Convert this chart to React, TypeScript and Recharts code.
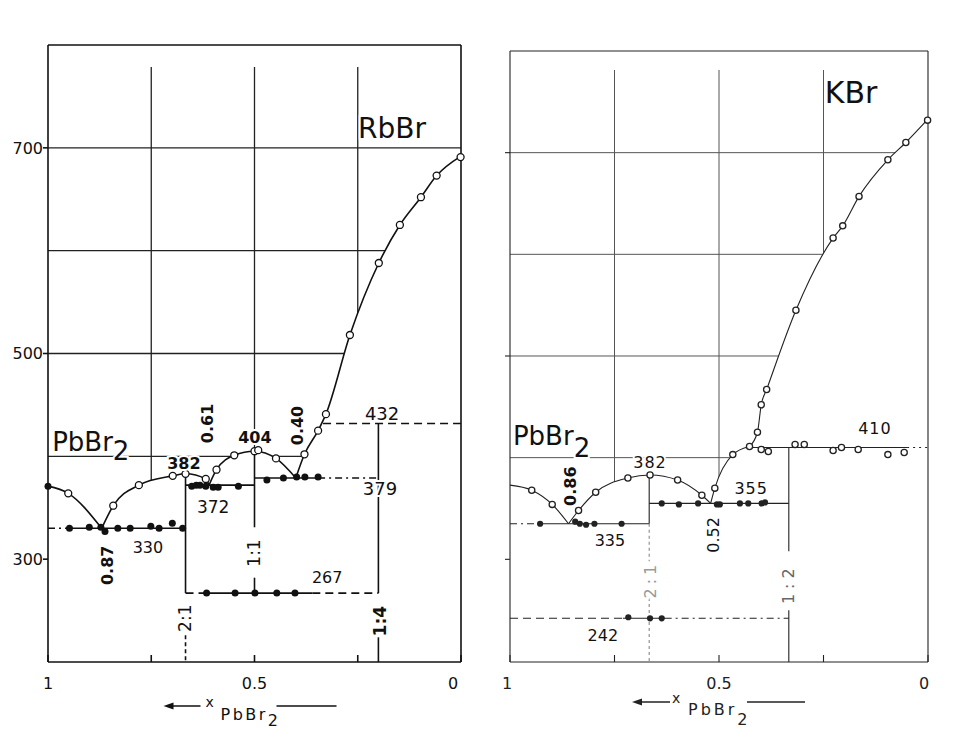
import React from 'react';
import { ComposedChart, Line, Area, Scatter, XAxis, YAxis, CartesianGrid } from 'recharts';

type P = { x: number; t: number };
type Note = P & { text: string; sub?: string; subDy?: number; size?: number; w?: number; rot?: boolean; anchor?: 'start' | 'middle'; fill?: string; ls?: number };

const pts = (...a: [number, number][]): P[] => a.map(([x, t]) => ({ x, t }));

const FONT = '"DejaVu Sans", "Liberation Sans", sans-serif';

// x = mole fraction of PbBr2, drawn from 1 (left) to 0 (right)
const xTicks = [1, 0.75, 0.5, 0.25, 0];
const xTickText: Record<string, string> = { '1': '1', '0.5': '0.5', '0': '0' };
const gridTemps = [400, 500, 600, 700];
const gridX = [0.75, 0.5, 0.25];

// ---------- RbBr - PbBr2 ----------
const rbLiq1 = pts([1, 371], [0.951, 364], [0.87, 330]);
const rbLiq2 = pts([0.87, 330], [0.842, 352], [0.78, 372], [0.698, 381], [0.667, 383], [0.618, 378], [0.61, 372]);
const rbLiq3 = pts([0.61, 372], [0.592, 387], [0.549, 401], [0.5, 405], [0.448, 398], [0.4, 379]);
const rbLiq4 = pts([0.4, 379], [0.379, 402], [0.346, 425], [0.327, 441], [0.269, 518], [0.199, 588], [0.148, 625], [0.097, 652], [0.059, 673], [0, 692]);

const rbOpen = pts(
  [0.951, 364], [0.842, 352], [0.78, 372], [0.698, 381], [0.667, 383], [0.618, 378], [0.592, 387], [0.549, 401],
  [0.5, 405], [0.491, 406], [0.448, 398], [0.379, 402], [0.346, 425], [0.327, 441], [0.269, 518], [0.199, 588],
  [0.148, 625], [0.097, 652], [0.059, 673], [0.001, 691],
);
const rbDots330 = pts([1, 371], [0.948, 330], [0.9, 331], [0.872, 331], [0.862, 327], [0.831, 330], [0.801, 330], [0.751, 332], [0.731, 330], [0.699, 335], [0.674, 330]);
const rbDots372 = pts([0.652, 371], [0.641, 372], [0.632, 372], [0.618, 371], [0.6, 370], [0.588, 370], [0.539, 371]);
const rbDots379 = pts([0.47, 377], [0.43, 379], [0.398, 380], [0.378, 380], [0.346, 380]);
const rbDots267 = pts([0.616, 267], [0.547, 267], [0.499, 267], [0.446, 267], [0.402, 267]);

const rbIso330 = pts([0.95, 330], [0.667, 330]);
const rbIso330Lead = pts([1, 330], [0.95, 330]);
const rbIso372 = pts([0.667, 372], [0.5, 372]);
const rbIso379 = pts([0.5, 379], [0.346, 379]);
const rbIso379Tail = pts([0.346, 379], [0.2, 379]);
const rbIso432 = pts([0.334, 432], [0, 432]);
const rbIso267 = pts([0.616, 267], [0.36, 267]);
const rbIso267Lead = pts([0.667, 267], [0.616, 267]);
const rbIso267Tail = pts([0.36, 267], [0.2, 267]);
const rbComp21 = pts([0.667, 383], [0.667, 267]);
const rbComp21Foot = pts([0.667, 226], [0.667, 200]);
const rbComp11 = pts([0.5, 405], [0.5, 331]);
const rbComp11Foot = pts([0.5, 282], [0.5, 267]);
const rbComp14 = pts([0.2, 432], [0.2, 267]);
const rbComp14Foot = pts([0.2, 224], [0.2, 200]);

const rbNotes: Note[] = [
  { x: 0.167, t: 719, text: 'RbBr', size: 28 },
  { x: 0.99, t: 414, text: 'PbBr', sub: '2', subDy: 9, size: 26, anchor: 'start' },
  { x: 0.671, t: 393, text: '382', w: 700, size: 16 },
  { x: 0.615, t: 432, text: '0.61', w: 700, size: 16, rot: true },
  { x: 0.499, t: 418, text: '404', w: 700, size: 16 },
  { x: 0.397, t: 430, text: '0.40', w: 700, size: 16, rot: true },
  { x: 0.191, t: 442, text: '432', size: 18 },
  { x: 0.196, t: 369, text: '379', size: 18 },
  { x: 0.6, t: 351, text: '372' },
  { x: 0.758, t: 311, text: '330', size: 16 },
  { x: 0.857, t: 294, text: '0.87', w: 700, size: 16, rot: true },
  { x: 0.5, t: 306, text: '1:1', rot: true },
  { x: 0.324, t: 282.5, text: '267', size: 16 },
  { x: 0.668, t: 242.6, text: '2:1', rot: true },
  { x: 0.196, t: 239.7, text: '1:4', w: 700, rot: true },
];

// ---------- KBr - PbBr2 ----------
const kLiq1 = pts([1, 373], [0.948, 368], [0.899, 354], [0.86, 335]);
const kLiq2 = pts([0.86, 335], [0.836, 348], [0.795, 366], [0.718, 380], [0.665, 383], [0.599, 378], [0.541, 363], [0.52, 355]);
const kLiq3 = pts([0.52, 355], [0.51, 370], [0.467, 403], [0.427, 411]);
const kLiq4 = pts([0.427, 411], [0.408, 425], [0.399, 452], [0.386, 467], [0.316, 545], [0.227, 616], [0.204, 628], [0.165, 657], [0.096, 693], [0.053, 710], [0, 733]);

const kOpen = pts(
  [0.948, 368], [0.899, 354], [0.836, 348], [0.795, 366], [0.718, 380], [0.665, 383], [0.599, 378], [0.541, 363],
  [0.51, 370], [0.467, 403], [0.427, 411], [0.408, 425], [0.399, 452], [0.386, 467], [0.316, 545], [0.227, 616],
  [0.204, 628], [0.165, 657], [0.096, 693], [0.053, 710], [0.001, 732],
  [0.399, 408], [0.382, 406], [0.318, 413], [0.296, 413], [0.227, 407], [0.207, 410], [0.167, 408], [0.096, 403], [0.057, 405],
);
const kDots335 = pts([0.928, 335], [0.844, 337], [0.833, 335], [0.818, 334], [0.798, 335], [0.733, 335]);
const kDots355 = pts([0.637, 355], [0.596, 354], [0.55, 355], [0.505, 354], [0.498, 354], [0.45, 355], [0.43, 355], [0.398, 355], [0.39, 356]);
const kDots242 = pts([0.717, 243], [0.665, 242], [0.637, 242]);

const kIso335 = pts([0.93, 335], [0.667, 335]);
const kIso335Lead = pts([1, 335], [0.93, 335]);
const kIso355 = pts([0.667, 355], [0.333, 355]);
const kIso410 = pts([0.427, 410], [0.05, 410]);
const kIso410Tail = pts([0.05, 410], [0, 410]);
const kIso242 = pts([0.73, 242], [0.63, 242]);
const kIso242Lead = pts([1, 242], [0.73, 242]);
const kIso242Tail = pts([0.63, 242], [0.333, 242]);
const kComp21 = pts([0.667, 383], [0.667, 335]);
const kComp21Low = pts([0.667, 335], [0.667, 298]);
const kComp21Foot = pts([0.667, 262], [0.667, 199]);
const kComp12 = pts([0.333, 410], [0.333, 308]);
const kComp12Foot = pts([0.333, 250], [0.333, 199]);

const kNotes: Note[] = [
  { x: 0.184, t: 759, text: 'KBr', size: 30 },
  { x: 0.993, t: 421, text: 'PbBr', sub: '2', subDy: 12, size: 26, anchor: 'start' },
  { x: 0.665, t: 395, text: '382', size: 16, ls: 1 },
  { x: 0.856, t: 372, text: '0.86', w: 700, size: 16, rot: true },
  { x: 0.423, t: 370, text: '355', size: 16, ls: 1 },
  { x: 0.761, t: 319, text: '335', size: 16 },
  { x: 0.127, t: 429, text: '410', size: 16, ls: 1 },
  { x: 0.514, t: 324, text: '0.52', size: 16, rot: true },
  { x: 0.665, t: 280, text: '2:1', size: 16, rot: true, fill: '#999', ls: 4 },
  { x: 0.333, t: 276, text: '1:2', size: 16, rot: true, fill: '#666', ls: 5 },
  { x: 0.778, t: 225.5, text: '242', size: 16 },
];

type Seg = { d: P[]; dash?: string; ink?: string };

type TitleCfg = { ay: number; a0: number; a1: number; xx: number; xy: number; pb: number; py: number; sd: number; l0: number; l1: number; ls: number };

type PanelCfg = {
  left: number;
  width: number;
  margin: { top: number; right: number; bottom: number; left: number };
  yDomain: [number, number];
  yLeftW: number;
  yRightW: number;
  yLeftTicks: number[];
  yLeftLabels: boolean;
  yRightTicks: number[];
  yRightLabels: boolean;
  gridY: number;
  gridH: number;
  liquidus: P[][];
  segs: Seg[];
  open: P[];
  filled: P[];
  notes: Note[];
  ink: string;
  lw: number;
  gridInk: string;
  gridW: number;
  r: number;
  zeroShift: number;
  oneShift: number;
  title: TitleCfg;
};

const DASH = '8 5';
const DASHDOT = '7 4 2 4';

const rbPanel: PanelCfg = {
  left: 0,
  width: 480,
  margin: { top: 44, right: 9, bottom: 29, left: 0 },
  yDomain: [200, 800],
  yLeftW: 48,
  yRightW: 10,
  yLeftTicks: [300, 500, 700],
  yLeftLabels: true,
  yRightTicks: [400, 600],
  yRightLabels: false,
  gridY: 67,
  gridH: 595,
  liquidus: [rbLiq1, rbLiq2, rbLiq3, rbLiq4],
  segs: [
    { d: rbIso330 }, { d: rbIso330Lead, dash: DASHDOT }, { d: rbIso372 }, { d: rbIso379 },
    { d: rbIso379Tail, dash: DASHDOT }, { d: rbIso432, dash: DASH }, { d: rbIso267 },
    { d: rbIso267Lead, dash: DASH }, { d: rbIso267Tail, dash: DASH }, { d: rbComp21 },
    { d: rbComp21Foot, dash: '4 3' }, { d: rbComp11 }, { d: rbComp11Foot }, { d: rbComp14 }, { d: rbComp14Foot },
  ],
  open: rbOpen,
  filled: [...rbDots330, ...rbDots372, ...rbDots379, ...rbDots267],
  notes: rbNotes,
  ink: '#111',
  lw: 1.6,
  gridInk: '#222',
  gridW: 1.3,
  r: 3.5,
  zeroShift: -8,
  oneShift: 0,
  title: { ay: 44, a0: -91, a1: -54, xx: -49, xy: 45, pb: -34, py: 58, sd: 6, l0: 22, l1: 82, ls: 2.5 },
};

const kPanel: PanelCfg = {
  left: 480,
  width: 487,
  margin: { top: 50, right: 0, bottom: 29, left: 0 },
  yDomain: [199, 800],
  yLeftW: 30,
  yRightW: 39,
  yLeftTicks: [300, 500, 700],
  yLeftLabels: false,
  yRightTicks: [400, 600],
  yRightLabels: true,
  gridY: 70,
  gridH: 592,
  liquidus: [kLiq1, kLiq2, kLiq3, kLiq4],
  segs: [
    { d: kIso335 }, { d: kIso335Lead, dash: DASHDOT }, { d: kIso355 }, { d: kIso410 },
    { d: kIso410Tail, dash: '2 4' }, { d: kIso242 }, { d: kIso242Lead, dash: DASH },
    { d: kIso242Tail, dash: DASHDOT }, { d: kComp21 }, { d: kComp21Low, dash: '3 3', ink: '#888' },
    { d: kComp21Foot, dash: '3 3', ink: '#888' }, { d: kComp12 }, { d: kComp12Foot },
  ],
  open: kOpen,
  filled: [...kDots335, ...kDots355, ...kDots242],
  notes: kNotes,
  ink: '#222',
  lw: 1.1,
  gridInk: '#555',
  gridW: 1,
  r: 3.1,
  zeroShift: -4,
  oneShift: -3,
  title: { ay: 40, a0: -87, a1: -49, xx: -47, xy: 41, pb: -31, py: 53, sd: 10, l0: 28, l1: 86, ls: 3 },
};

const NoteShape = (props: any) => {
  const { cx, cy, payload } = props;
  const n: Note = payload;
  if (cx == null || cy == null || !n) return null;
  return (
    <text
      x={cx}
      y={cy}
      transform={n.rot ? `rotate(-90 ${cx} ${cy})` : undefined}
      textAnchor={n.anchor ?? 'middle'}
      dominantBaseline="central"
      fontFamily={FONT}
      fontSize={n.size ?? 17}
      fontWeight={n.w ?? 400}
      fill={n.fill ?? '#111'}
      stroke="#fff"
      strokeWidth={4}
      paintOrder="stroke"
      letterSpacing={n.ls}
    >
      {n.text}
      {n.sub ? <tspan dy={n.subDy ?? 9}>{n.sub}</tspan> : null}
    </text>
  );
};

function titleLabel(c: TitleCfg, ink: string, fallback: { cx: number; y0: number }) {
  return (props: any) => {
    const vb = props?.viewBox;
    const cx = vb && typeof vb.x === 'number' ? vb.x + vb.width / 2 : fallback.cx;
    const y0 = vb && typeof vb.y === 'number' ? vb.y : fallback.y0;
    const ay = y0 + c.ay;
    const ax = cx + c.a0;
    return (
      <g>
        <path d={`M${ax} ${ay} L${ax + 10} ${ay - 3.5} L${ax + 10} ${ay + 3.5} Z`} fill={ink} />
        <line x1={ax + 8} y1={ay} x2={cx + c.a1} y2={ay} stroke={ink} strokeWidth={1.5} />
        <text x={cx + c.xx} y={y0 + c.xy} fontFamily={FONT} fontSize={14} fill={ink}>x</text>
        <text x={cx + c.pb} y={y0 + c.py} fontFamily={FONT} fontSize={16} fill={ink} letterSpacing={c.ls}>
          PbBr<tspan dy={c.sd}>2</tspan>
        </text>
        <line x1={cx + c.l0} y1={ay} x2={cx + c.l1} y2={ay} stroke={ink} strokeWidth={1.5} />
      </g>
    );
  };
}

const blank = () => '';

function xTick(cfg: PanelCfg) {
  return (props: any) => {
    const v = props?.payload?.value;
    const text = xTickText[String(v)] ?? '';
    if (!text) return <g />;
    const shift = v === 0 ? cfg.zeroShift : v === 1 ? cfg.oneShift : 0;
    return (
      <text x={props.x + shift} y={props.y} dy="0.71em" textAnchor="middle" fontFamily={FONT} fontSize={16} fill={cfg.ink}>
        {text}
      </text>
    );
  };
}

function Panel({ cfg }: { cfg: PanelCfg }) {
  const mask: P[] = [];
  cfg.liquidus.forEach((seg, i) => seg.forEach((p, j) => { if (i === 0 || j > 0) mask.push(p); }));
  const plotLeft = cfg.margin.left + cfg.yLeftW;
  const plotRight = cfg.width - cfg.margin.right - cfg.yRightW;
  const ink = cfg.ink;
  const tickStyle = { fill: ink, fontSize: 16, fontFamily: FONT };

  return (
    <div style={{ position: 'absolute', left: cfg.left, top: 0 }}>
      <ComposedChart width={cfg.width} height={731} margin={cfg.margin}>
        <CartesianGrid
          y={cfg.gridY}
          height={cfg.gridH}
          horizontalValues={gridTemps}
          verticalValues={gridX}
          stroke={cfg.gridInk}
          strokeWidth={cfg.gridW}
        />
        <Area
          data={mask}
          dataKey="t"
          type="monotone"
          stroke="none"
          fill="#fff"
          fillOpacity={1}
          dot={false}
          activeDot={false}
          isAnimationActive={false}
        />
        <XAxis
          dataKey="x"
          type="number"
          domain={[0, 1]}
          reversed
          ticks={xTicks}
          interval={0}
          height={40}
          tickSize={-7}
          tickMargin={23}
          tick={xTick(cfg)}
          stroke={ink}
          strokeWidth={cfg.lw}
          label={titleLabel(cfg.title, ink, { cx: (plotLeft + plotRight) / 2, y0: 662 })}
        />
        <XAxis
          xAxisId="top"
          orientation="top"
          dataKey="x"
          type="number"
          domain={[0, 1]}
          reversed
          ticks={gridX}
          height={1}
          tick={false}
          tickSize={4}
          stroke={ink}
          strokeWidth={cfg.lw}
        />
        <YAxis
          dataKey="t"
          type="number"
          domain={cfg.yDomain}
          ticks={cfg.yLeftTicks}
          interval={0}
          width={cfg.yLeftW}
          tick={tickStyle}
          tickFormatter={cfg.yLeftLabels ? undefined : blank}
          tickSize={5}
          tickMargin={0}
          stroke={ink}
          strokeWidth={cfg.lw}
        />
        <YAxis
          yAxisId="r"
          orientation="right"
          type="number"
          domain={cfg.yDomain}
          ticks={cfg.yRightTicks}
          interval={0}
          width={cfg.yRightW}
          tick={tickStyle}
          tickFormatter={cfg.yRightLabels ? undefined : blank}
          tickSize={5}
          tickMargin={5}
          stroke={ink}
          strokeWidth={cfg.lw}
        />
        {cfg.segs.map((s, i) => (
          <Line
            key={`s${i}`}
            data={s.d}
            dataKey="t"
            type="linear"
            stroke={s.ink ?? ink}
            strokeWidth={cfg.lw}
            strokeDasharray={s.dash}
            dot={false}
            activeDot={false}
            isAnimationActive={false}
          />
        ))}
        {cfg.liquidus.map((d, i) => (
          <Line
            key={`l${i}`}
            data={d}
            dataKey="t"
            type="monotone"
            stroke={ink}
            strokeWidth={cfg.lw}
            dot={false}
            activeDot={false}
            isAnimationActive={false}
          />
        ))}
        <Scatter
          data={cfg.filled}
          dataKey="t"
          isAnimationActive={false}
          shape={(p: any) => <circle cx={p.cx} cy={p.cy} r={cfg.r} fill={ink} />}
        />
        <Scatter
          data={cfg.open}
          dataKey="t"
          isAnimationActive={false}
          shape={(p: any) => <circle cx={p.cx} cy={p.cy} r={cfg.r} fill="#fff" stroke={ink} strokeWidth={1.3} />}
        />
        <Scatter data={cfg.notes} dataKey="t" isAnimationActive={false} shape={NoteShape} />
      </ComposedChart>
    </div>
  );
}

export default function App() {
  return (
    <div style={{ position: 'absolute', left: 0, top: 0, width: 967, height: 731, background: '#fff' }}>
      <Panel cfg={rbPanel} />
      <Panel cfg={kPanel} />
    </div>
  );
}
